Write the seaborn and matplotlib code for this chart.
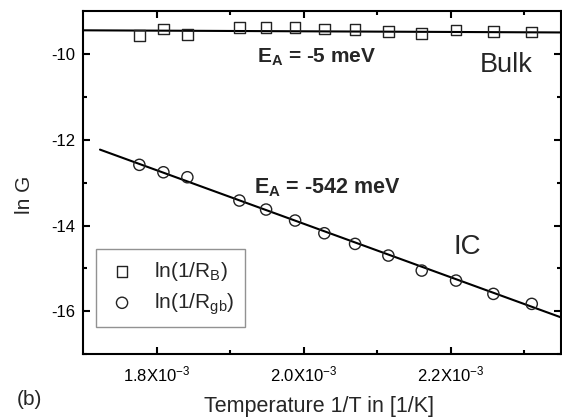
import matplotlib
matplotlib.use("Agg")
import matplotlib.pyplot as plt
import seaborn as sns
import pandas as pd
from matplotlib.ticker import FixedLocator

# ---- data ----
inv_T = [1.7763e-3, 1.8090e-3, 1.8416e-3, 1.9124e-3, 1.9487e-3, 1.9882e-3,
         2.0280e-3, 2.0698e-3, 2.1151e-3, 2.1605e-3, 2.2072e-3, 2.2580e-3, 2.3102e-3]
ln_bulk = [-9.57, -9.42, -9.55, -9.39, -9.38, -9.38, -9.42, -9.43, -9.47,
           -9.52, -9.44, -9.47, -9.49]
ln_gb = [-12.585, -12.758, -12.874, -13.417, -13.627, -13.883, -14.179,
         -14.427, -14.699, -15.049, -15.282, -15.592, -15.825]
fit_bulk_x = [1.70e-3, 2.35e-3]
fit_bulk_y = [-9.45, -9.50]
fit_gb_x = [1.7227e-3, 2.35e-3]
fit_gb_y = [-12.23, -16.14]
xtick_vals = [1.8e-3, 2.0e-3, 2.2e-3]
xtick_labels = [r"1.8X10$^{\mathregular{-3}}$", r"2.0X10$^{\mathregular{-3}}$",
                r"2.2X10$^{\mathregular{-3}}$"]
ytick_vals = [-10, -12, -14, -16]
label_bulk = r"ln(1/R$_\mathregular{B}$)"
label_gb = r"ln(1/R$_\mathregular{gb}$)"

sns.set_style("ticks")
plt.rcParams["font.family"] = ["Liberation Sans", "DejaVu Sans"]
plt.rcParams["mathtext.fontset"] = "custom"
plt.rcParams["mathtext.rm"] = "Liberation Sans"
plt.rcParams["mathtext.bf"] = "Liberation Sans:bold"
plt.rcParams["mathtext.it"] = "Liberation Sans:italic"

fig = plt.figure(figsize=(5.62, 4.18), dpi=100)
ax = fig.add_axes([83.3 / 562, 1 - 354.3 / 418, (561 - 83.3) / 562, (354.3 - 11) / 418])

df_b = pd.DataFrame({"x": inv_T, "y": ln_bulk})
df_g = pd.DataFrame({"x": inv_T, "y": ln_gb})

sns.lineplot(x=fit_bulk_x, y=fit_bulk_y, ax=ax, color="black", lw=1.5, zorder=2)
sns.lineplot(x=fit_gb_x, y=fit_gb_y, ax=ax, color="black", lw=1.5, zorder=2)
sns.scatterplot(data=df_b, x="x", y="y", ax=ax, marker="s", s=60,
                facecolor="none", edgecolor="#222222", linewidth=1.0,
                label=label_bulk, zorder=3)
sns.scatterplot(data=df_g, x="x", y="y", ax=ax, marker="o", s=65,
                facecolor="none", edgecolor="#222222", linewidth=1.0,
                label=label_gb, zorder=3)

ax.set_xlim(1.70e-3, 2.35e-3)
ax.set_ylim(-17, -9)
ax.xaxis.set_major_locator(FixedLocator(xtick_vals))
ax.set_xticklabels(xtick_labels)
ax.xaxis.set_minor_locator(FixedLocator([1.9e-3, 2.1e-3, 2.3e-3]))
ax.yaxis.set_major_locator(FixedLocator(ytick_vals))
ax.set_yticklabels([str(v) for v in ytick_vals])
ax.yaxis.set_minor_locator(FixedLocator([-11, -13, -15, -17]))
ax.tick_params(which="both", direction="in", top=True, right=True, width=1.5,
               labelsize=12, colors="black")
ax.tick_params(which="major", length=5)
ax.tick_params(which="minor", length=3)
ax.tick_params(axis="x", pad=7)
ax.tick_params(axis="y", pad=6)
for sp in ax.spines.values():
    sp.set_visible(True)
    sp.set_linewidth(1.5)
    sp.set_color("black")
ax.set_xlabel("")
ax.set_ylabel("")

ax.text(1.936e-3, -10.2, r"E$_\mathbf{A}$ = -5 meV", fontsize=15, fontweight="bold",
        ha="left", va="baseline")
ax.text(1.9322e-3, -13.25, r"E$_\mathbf{A}$ = -542 meV", fontsize=15.5, fontweight="bold",
        ha="left", va="baseline")
ax.text(2.2397e-3, -10.43, "Bulk", fontsize=19.5, ha="left", va="baseline")
ax.text(2.2034e-3, -14.66, "IC", fontsize=20, ha="left", va="baseline")

leg = ax.legend(loc="upper left", bbox_to_anchor=((96 - 83.3) / 477.7, 1 - (249.3 - 11) / 343.3),
                frameon=True, fancybox=False, fontsize=15, handletextpad=0.8,
                borderpad=0.5, labelspacing=0.4, handlelength=1.5, borderaxespad=0)
leg.get_frame().set_edgecolor("#777777")
leg.get_frame().set_linewidth(1.0)

fig.text(25 / 562, 1 - 195 / 418, "ln G", rotation=90, ha="center", va="center", fontsize=15)
fig.text(319 / 562, 1 - 411.7 / 418, "Temperature 1/T in [1/K]", ha="center",
         va="baseline", fontsize=15.5)
fig.text(17 / 562, 1 - 405 / 418, "(b)", ha="left", va="baseline", fontsize=15)

fig.savefig("out.png", dpi=100)
